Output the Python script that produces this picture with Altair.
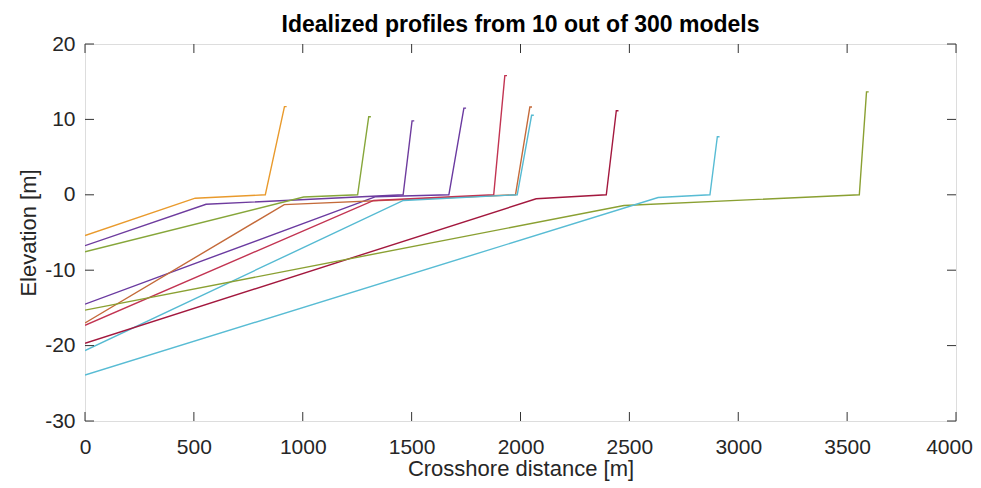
import altair as alt
import pandas as pd

# ---- data ----
profile_ids = ["p1", "p2", "p3", "p4", "p5", "p6", "p7", "p8", "p9", "p10"]
start_z   = [-5.4, -6.75, -7.55, -14.5, -17.0, -17.3, -20.65, -19.7, -15.3, -23.9]
kink_x    = [506, 556, 1004, 1335, 915, 1326, 1462, 2072, 2475, 2632]
kink_z    = [-0.45, -1.25, -0.3, -0.25, -1.3, -0.75, -0.75, -0.53, -1.42, -0.36]
toe_x     = [828, 1461, 1252, 1671, 1977, 1877, 1985, 2394, 3556, 2870]
toe_z     = [0, 0, 0, 0, 0, 0, 0, 0, 0, 0]
crest_x   = [916, 1502, 1303, 1740, 2043, 1928, 2051, 2440, 3589, 2904]
crest_end = [926, 1512, 1313, 1750, 2053, 1938, 2061, 2450, 3599, 2914]
crest_z   = [11.7, 9.8, 10.35, 11.5, 11.65, 15.8, 10.55, 11.15, 13.65, 7.7]
line_colors = ["#E99A2C", "#6E3C9E", "#86A63A", "#6A3AA0", "#C46A3A",
               "#C23452", "#55BAD2", "#A3183E", "#8AA032", "#58BCD4"]

x_ticks = [0, 500, 1000, 1500, 2000, 2500, 3000, 3500, 4000]
y_ticks = [-30, -20, -10, 0, 10, 20]

rows = []
for i, pid in enumerate(profile_ids):
    pts = [(0, start_z[i]), (kink_x[i], kink_z[i]), (toe_x[i], toe_z[i]),
           (crest_x[i], crest_z[i]), (crest_end[i], crest_z[i])]
    for k, (xx, zz) in enumerate(pts):
        rows.append({"profile": pid, "pt": k, "x": xx, "y": zz})
df = pd.DataFrame(rows)
xt_df = pd.DataFrame({"x": x_ticks})
yt_df = pd.DataFrame({"y": y_ticks})

W, H = 871, 377
FONT = "Liberation Sans"
TXT = "#262626"
TICK = 9
LBL = 21
TTL = 22

xscale = alt.Scale(domain=[0, 4000], nice=False, zero=False)
yscale = alt.Scale(domain=[-30, 20], nice=False, zero=False)

xaxis = alt.Axis(values=x_ticks, ticks=False, tickSize=0, grid=False, domain=False,
                 labelExpr="'' + datum.value",
                 labelFontSize=LBL, labelFont=FONT, labelColor=TXT,
                 labelPadding=15, labelFlush=False, labelOverlap=False,
                 labelOffset={"condition": {"test": "datum.value == 4000", "value": -7},
                              "value": 0},
                 title="Crosshore distance [m]", titleFontSize=TTL,
                 titleFont=FONT, titleColor=TXT, titleFontWeight="normal",
                 titleY=37, titleBaseline="top")
yaxis = alt.Axis(values=y_ticks, ticks=False, tickSize=0, grid=False, domain=False,
                 labelExpr="'' + datum.value",
                 labelFontSize=LBL, labelFont=FONT, labelColor=TXT,
                 labelPadding=10, labelFlush=False, labelOverlap=False,
                 title="Elevation [m]", titleFontSize=TTL,
                 titleFont=FONT, titleColor=TXT, titleFontWeight="normal",
                 titleAngle=-90, titleX=-50, titleY=H / 2,
                 titleBaseline="alphabetic", titleAlign="center")

lines = alt.Chart(df).mark_line(strokeWidth=1.4, clip=True).encode(
    x=alt.X("x:Q", scale=xscale, axis=xaxis),
    y=alt.Y("y:Q", scale=yscale, axis=yaxis),
    color=alt.Color("profile:N", scale=alt.Scale(domain=profile_ids, range=line_colors),
                    legend=None),
    detail="profile:N",
    order="pt:Q",
)

tick_color = "#333333"
bottom_ticks = alt.Chart(xt_df).mark_rule(color=tick_color, strokeWidth=1).encode(
    x=alt.X("x:Q", scale=xscale, axis=xaxis), y=alt.value(H), y2=alt.value(H - TICK))
top_ticks = alt.Chart(xt_df).mark_rule(color=tick_color, strokeWidth=1).encode(
    x=alt.X("x:Q", scale=xscale, axis=xaxis), y=alt.value(0), y2=alt.value(TICK))
left_ticks = alt.Chart(yt_df).mark_rule(color=tick_color, strokeWidth=1).encode(
    y=alt.Y("y:Q", scale=yscale, axis=yaxis), x=alt.value(0), x2=alt.value(TICK))
right_ticks = alt.Chart(yt_df).mark_rule(color=tick_color, strokeWidth=1).encode(
    y=alt.Y("y:Q", scale=yscale, axis=yaxis), x=alt.value(W), x2=alt.value(W - TICK))

chart = alt.layer(lines, bottom_ticks, top_ticks, left_ticks, right_ticks).properties(
    width=W, height=H,
    title=alt.TitleParams("Idealized profiles from 10 out of 300 models",
                          fontSize=23, fontWeight="bold", font=FONT, color="#000000",
                          anchor="middle", offset=-6, baseline="bottom", dy=21),
    autosize=alt.AutoSizeParams(type="none"),
    padding={"left": 77, "top": 36, "right": 17, "bottom": 60},
).configure_view(stroke="#4a4a4a", strokeWidth=1).configure(background="white")

chart.save("out.html", embed_options={"renderer": "svg", "actions": False})
